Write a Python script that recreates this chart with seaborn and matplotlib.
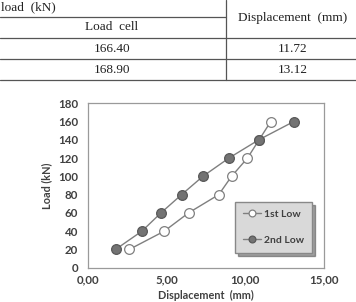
import numpy as np
import pandas as pd
import seaborn as sns
import matplotlib.pyplot as plt
from matplotlib.lines import Line2D

# table values
tbl_load = ["166.40", "168.90"]
tbl_disp = ["11.72", "13.12"]

# chart data
load_1st = [20, 40, 60, 80, 100, 120, 140, 160]
disp_1st = [2.64, 4.86, 6.40, 8.32, 9.13, 10.14, 10.88, 11.62]
load_2nd = [20, 40, 60, 80, 100, 120, 140, 160]
disp_2nd = [1.77, 3.44, 4.65, 5.96, 7.31, 8.96, 10.86, 13.08]

x_ticks = [0, 5, 10, 15]
y_ticks = [0, 20, 40, 60, 80, 100, 120, 140, 160, 180]

sns.set_style("white")
plt.rcParams['font.family'] = ['Lato', 'DejaVu Sans']

W, H = 356, 302
fig = plt.figure(figsize=(W / 100, H / 100), dpi=100)

def fx(px):
    return px / W

def fy(py):
    return 1 - py / H

# --- table on top ---
serif = {'family': 'Liberation Serif', 'size': 9.5, 'color': '#222222'}
def hline(y, x0, x1):
    fig.add_artist(Line2D([fx(x0), fx(x1)], [fy(y), fy(y)], color='#555555', lw=0.9))

hline(16.7, 0, 226)
hline(37.7, 0, 356)
hline(59, 0, 356)
hline(80, 0, 356)
fig.add_artist(Line2D([fx(226), fx(226)], [fy(0), fy(80)], color='#555555', lw=0.9))

fig.text(fx(1), fy(7.5), "load  (kN)", ha='left', va='center', fontdict=serif)
fig.text(fx(112), fy(27.5), "Load  cell", ha='center', va='center', fontdict=serif)
fig.text(fx(293), fy(18), "Displacement  (mm)", ha='center', va='center', fontdict=serif)
rows_y = [49, 70]
for yy, a, b in zip(rows_y, tbl_load, tbl_disp):
    fig.text(fx(112), fy(yy), a, ha='center', va='center', fontdict=serif)
    fig.text(fx(293), fy(yy), b, ha='center', va='center', fontdict=serif)

# --- chart ---
ax = fig.add_axes([87.7 / W, (H - 267.7) / H, (324 - 87.7) / W, (267.7 - 103.3) / H])

df1 = pd.DataFrame({'disp': disp_1st, 'load': load_1st})
df2 = pd.DataFrame({'disp': disp_2nd, 'load': load_2nd})

sns.lineplot(data=df1, x='disp', y='load', ax=ax, sort=False, estimator=None,
             color='#7f7f7f', lw=1.0, marker='o', markersize=7,
             markerfacecolor='white', markeredgecolor='#808080', markeredgewidth=0.9,
             label='1st Low')
sns.lineplot(data=df2, x='disp', y='load', ax=ax, sort=False, estimator=None,
             color='#7f7f7f', lw=1.0, marker='o', markersize=7,
             markerfacecolor='#737373', markeredgecolor='#595959', markeredgewidth=0.9,
             label='2nd Low')

ax.set_xlim(0, 15)
ax.set_ylim(0, 180)
ax.set_xticks(x_ticks)
ax.set_xticklabels([f"{v:.2f}".replace('.', ',') for v in x_ticks])
ax.set_yticks(y_ticks)
ax.tick_params(axis='y', length=0, pad=7, labelsize=8.3, labelcolor='#404040')
ax.tick_params(axis='x', length=0, pad=5, labelsize=8.3, labelcolor='#404040')
for lab in ax.get_xticklabels() + ax.get_yticklabels():
    lab.set_fontweight('bold')

for sp in ax.spines.values():
    sp.set_color('#9a9a9a')
    sp.set_linewidth(0.9)

ax.set_xlabel("Displacement  (mm)", fontsize=7.8, fontweight='bold', color='#404040', labelpad=3)
ax.set_ylabel("Load (kN)", fontsize=7.8, fontweight='bold', color='#404040', labelpad=4)

leg = ax.legend(loc='lower left', bbox_to_anchor=(0.625, 0.09), frameon=True,
                fancybox=False, shadow=True, facecolor='#d9d9d9', edgecolor='#888888',
                fontsize=7.5, labelspacing=1.6, handlelength=1.7, handletextpad=0.3,
                borderpad=0.75, borderaxespad=0, framealpha=1, markerscale=0.7)
for t in leg.get_texts():
    t.set_fontweight('bold')
    t.set_color('#404040')

fig.savefig('out.png', dpi=100)
